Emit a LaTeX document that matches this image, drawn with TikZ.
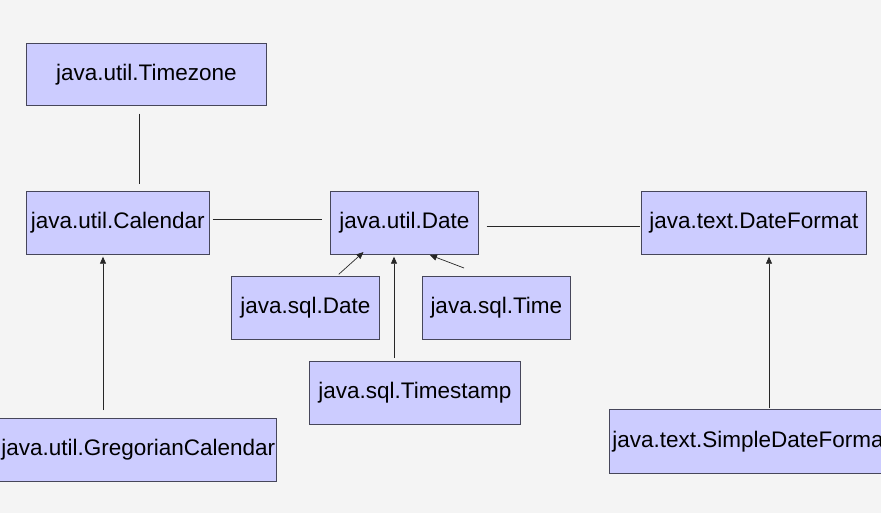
\documentclass[tikz,border=0pt]{standalone}
\usepackage{fontspec}
\setmainfont{Liberation Sans}
\usetikzlibrary{arrows.meta}
\definecolor{bg}{RGB}{244,244,244}
\definecolor{boxf}{RGB}{204,204,255}
\definecolor{boxd}{RGB}{70,70,90}
\begin{document}
\begin{tikzpicture}[x=1pt,y=-1pt,
 box/.style={draw=boxd,fill=boxf,line width=0.7pt,inner sep=0pt,font=\fontsize{22.5}{26}\selectfont},
 ln/.style={draw=black!85,line width=0.7pt},
 arr/.style={ln,-{Triangle[length=7pt,width=6pt]}}]
\useasboundingbox (0,0) rectangle (881,513);
\clip (0,0) rectangle (881,513);
\fill[bg] (0,0) rectangle (881,513);
\newcommand{\bx}[6]{\node[box,minimum width=#4pt,minimum height=#5pt,anchor=north west] (#1) at (#2,#3) {#6};}
\bx{tz}{26}{43}{240}{62}{java.util.Timezone}
\bx{cal}{26}{191}{183}{63}{java.util.Calendar}
\bx{dt}{330}{191}{148}{63}{java.util.Date}
\bx{df}{641}{191}{225}{63}{java.text.DateFormat}
\bx{sd}{231}{276}{148}{63}{java.sql.Date}
\bx{st}{422}{276}{148}{63}{java.sql.Time}
\bx{ts}{309}{361}{211}{63}{java.sql.Timestamp}
\node[box,minimum width=277pt,minimum height=63pt,anchor=north west,text width=277pt,align=left] (gc) at (-1,418) {\hspace{2pt}java.util.GregorianCalendar};
\node[box,minimum width=290pt,minimum height=64pt,anchor=north west,text width=290pt,align=left] (sdf) at (609,409) {\hspace{3pt}java.text.SimpleDateFormat};
\draw[ln,shorten <=8pt,shorten >=7pt] ([xshift=113pt]tz.south west) -- ([xshift=113pt]cal.north west);
\draw[ln,shorten <=3pt,shorten >=8pt] ([yshift=35pt]cal.south east) -- ([yshift=35pt]dt.south west);
\draw[ln,shorten <=8pt,shorten >=1pt] ([yshift=28pt]dt.south east) -- ([yshift=28pt]df.south west);
\draw[arr,shorten <=8pt,shorten >=2pt] ([xshift=104pt]gc.north west) -- ([xshift=77pt]cal.south west);
\draw[arr,shorten <=1pt,shorten >=2pt] ([xshift=107pt,yshift=1pt]sd.north west) -- ([xshift=35pt,yshift=4pt]dt.south west);
\draw[arr,shorten <=3pt,shorten >=2pt] ([xshift=85pt]ts.north west) -- ([xshift=64pt]dt.south west);
\draw[arr,shorten <=0pt,shorten >=1pt] ([xshift=42pt,yshift=8pt]st.north west) -- ([xshift=99pt]dt.south west);
\draw[arr,shorten <=1pt,shorten >=2pt] ([xshift=160pt]sdf.north west) -- ([xshift=128pt]df.south west);
\end{tikzpicture}
\end{document}
